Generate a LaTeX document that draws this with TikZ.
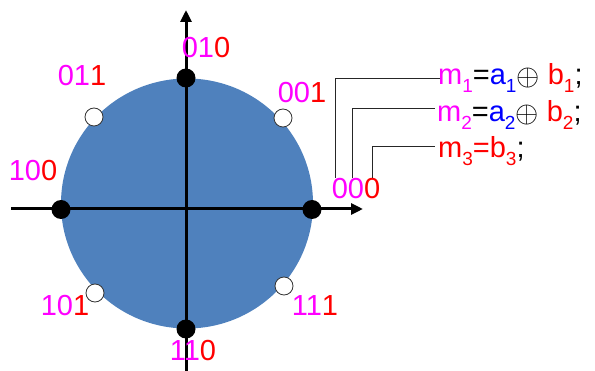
\documentclass[tikz,border=0pt]{standalone}
\usepackage{fontspec}
\setmainfont{Liberation Sans}
\usetikzlibrary{arrows.meta}
\definecolor{disc}{RGB}{79,129,189}
\definecolor{mag}{RGB}{255,0,255}
\definecolor{rd}{RGB}{255,0,0}
\definecolor{bl}{RGB}{0,0,255}
\newcommand\sbs[1]{\raisebox{-8pt}{\fontsize{19}{19}\selectfont #1}}
\newcommand\lab[2]{\textcolor{mag}{#1}\textcolor{rd}{#2}}
\newcommand\xorsym{\raisebox{-1pt}{\scalebox{1.2}{$\oplus$}}}
\tikzset{
  axis/.style={line width=3pt,-{Triangle[length=12pt,width=11pt]}},
  full/.style={circle,fill=black,inner sep=0pt,minimum size=19pt},
  open/.style={circle,fill=white,draw=black!80,line width=0.8pt,inner sep=0pt,minimum size=18pt},
  bits/.style={font=\fontsize{29}{32}\selectfont,inner sep=0pt},
  eq/.style={font=\fontsize{29}{32}\selectfont,inner sep=0pt,anchor=base west},
  lead/.style={line width=1pt,draw=black!85}
}
\begin{document}
\begin{tikzpicture}[x=1pt,y=-1pt]
\useasboundingbox (0,0) rectangle (595,371);
\fill[disc] (187,203.5) ellipse [x radius=126,y radius=125];
\coordinate (xl) at (11,209);
\coordinate (xr) at (363,209);
\coordinate (yb) at (186,371);
\coordinate (yt) at (186,10);
\draw[axis] (xl) -- (xr);
\draw[axis] (yb) -- (yt);
\node[full] (p010) at (186,78) {};
\node[full] (p100) at (61,209.5) {};
\node[full] (p000) at (312,209.5) {};
\node[full] (p110) at (186,329) {};
\node[open] (p011) at (94,117) {};
\node[open] (p001) at (283,118) {};
\node[open] (p101) at (95,293) {};
\node[open] (p111) at (284,286) {};
\node[bits] (l010) at (206,48) {\lab{01}{0}};
\node[bits] (l011) at (82,76) {\lab{01}{1}};
\node[bits] (l001) at (302,93) {\lab{00}{1}};
\node[bits] (l100) at (33,171) {\lab{10}{0}};
\node[bits] (l000) at (356,189) {\lab{00}{0}};
\node[bits] (l101) at (65,306) {\lab{10}{1}};
\node[bits] (l111) at (315,306) {\lab{11}{1}};
\node[bits] (l110) at (193,351) {\lab{11}{0}};
\node[eq] (e1) at (438,85) {\textcolor{mag}{m\sbs{1}}=\textcolor{bl}{a\sbs{1}}\xorsym{} \textcolor{rd}{b\sbs{1}};};
\node[eq] (e2) at (437,122) {\textcolor{mag}{m\sbs{2}}=\textcolor{bl}{a\sbs{2}}\xorsym{} \textcolor{rd}{b\sbs{2}};};
\node[eq] (e3) at (438,158) {\textcolor{rd}{m\sbs{3}=b\sbs{3}};};
\coordinate (s1) at (335,178);
\coordinate (s2) at (352,178);
\coordinate (s3) at (372,178);
\coordinate (t1) at (440,79);
\coordinate (t2) at (435,109);
\coordinate (t3) at (435,147);
\draw[lead] (s1) |- (t1);
\draw[lead] (s2) |- (t2);
\draw[lead] (s3) |- (t3);
\end{tikzpicture}
\end{document}
